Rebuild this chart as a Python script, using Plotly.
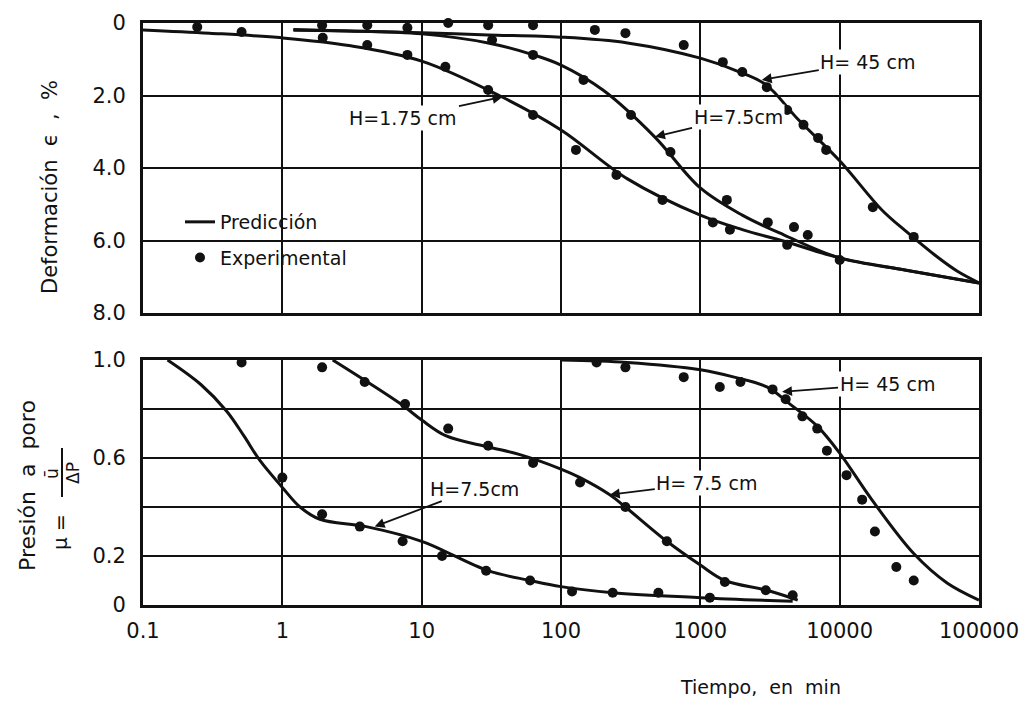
import numpy as np
import plotly.graph_objects as go

# ---------------- data ----------------
# Top panel: deformation (%), prediction curves
def_x_175 = [0.1, 0.3, 1, 3, 10, 36, 100, 300, 1000, 2000, 4000, 10000, 30000, 100000]
def_y_175 = [0.19, 0.28, 0.41, 0.62, 1.05, 2.0, 2.95, 4.3, 5.3, 5.7, 6.02, 6.48, 6.82, 7.17]
def_x_75 = [1.2, 3, 10, 30, 60, 100, 200, 470, 1000, 2000, 4000, 10000, 30000, 100000]
def_y_75 = [0.2, 0.22, 0.3, 0.55, 0.85, 1.16, 1.85, 3.14, 4.55, 5.3, 5.85, 6.48, 6.82, 7.17]
def_x_45 = [1.2, 3, 10, 30, 100, 300, 1000, 2000, 3000, 5000, 10000, 20000, 30000, 50000, 70000, 100000]
def_y_45 = [0.18, 0.22, 0.27, 0.33, 0.39, 0.55, 0.97, 1.38, 1.72, 2.65, 3.8, 5.15, 5.75, 6.45, 6.85, 7.17]

# Top panel: experimental points
exp_def_x_175 = [0.245, 0.51, 1.95, 4.07, 7.9, 14.8, 30, 63, 128, 250, 535, 1230, 1630, 4200, 10000]
exp_def_y_175 = [0.11, 0.25, 0.41, 0.61, 0.88, 1.21, 1.85, 2.54, 3.5, 4.19, 4.88, 5.5, 5.7, 6.12, 6.54]
exp_def_x_75 = [7.9, 32, 63, 145, 318, 610, 1550, 3050, 4700, 5900]
exp_def_y_75 = [0.13, 0.47, 0.88, 1.57, 2.54, 3.56, 4.88, 5.5, 5.63, 5.85]
exp_def_x_45 = [1.93, 4.07, 15.5, 30, 63, 175, 290, 760, 1450, 2000, 3000, 4200, 5500, 7000, 8000, 17300, 34000]
exp_def_y_45 = [0.06, 0.06, 0.0, 0.06, 0.06, 0.19, 0.28, 0.61, 1.08, 1.35, 1.77, 2.4, 2.81, 3.17, 3.5, 5.08, 5.9]

# Bottom panel: pore pressure ratio, prediction curves
pp_x_a = [0.15, 0.26, 0.4, 0.53, 0.69, 1, 1.34, 1.86, 4, 10, 30, 60, 100, 235, 1000, 4600]
pp_y_a = [1.0, 0.9, 0.79, 0.69, 0.59, 0.48, 0.4, 0.35, 0.32, 0.26, 0.14, 0.10, 0.075, 0.05, 0.03, 0.015]
pp_x_b = [2.3, 7.1, 10, 15, 30, 50, 100, 137, 224, 290, 575, 1000, 1500, 3000, 5000]
pp_y_b = [1.0, 0.82, 0.755, 0.69, 0.645, 0.615, 0.555, 0.52, 0.45, 0.4, 0.26, 0.163, 0.1, 0.06, 0.02]
pp_x_c = [100, 300, 1000, 1750, 3000, 4400, 6900, 10000, 17000, 34000, 59000, 100000]
pp_y_c = [1.0, 0.99, 0.96, 0.93, 0.89, 0.82, 0.73, 0.62, 0.43, 0.21, 0.09, 0.02]

# Bottom panel: experimental points
exp_pp_x_a = [0.51, 1, 1.93, 3.6, 7.3, 14, 29, 60, 120, 235, 500, 1170]
exp_pp_y_a = [0.99, 0.52, 0.37, 0.32, 0.26, 0.2, 0.14, 0.1, 0.055, 0.05, 0.05, 0.03]
exp_pp_x_b = [1.93, 3.9, 7.6, 15.5, 30, 63, 137, 290, 575, 1500, 2950, 4600]
exp_pp_y_b = [0.97, 0.91, 0.82, 0.72, 0.65, 0.58, 0.5, 0.4, 0.26, 0.094, 0.06, 0.04]
exp_pp_x_c = [180, 290, 760, 1380, 1940, 3300, 4100, 5400, 6900, 8100, 11200, 14500, 17900, 25500, 34000]
exp_pp_y_c = [0.99, 0.97, 0.93, 0.89, 0.91, 0.88, 0.84, 0.77, 0.72, 0.63, 0.53, 0.43, 0.3, 0.155, 0.10]

x_tickvals = [0.1, 1, 10, 100, 1000, 10000, 100000]
x_ticktext = ["0.1", "1", "10", "100", "1000", "10000", "100000"]
def_tickvals = [0, 2, 4, 6, 8]
def_ticktext = ["0", "2.0", "4.0", "6.0", "8.0"]
pp_tickvals = [0, 0.2, 0.4, 0.6, 0.8, 1.0]
pp_ticktext = ["0", "0.2", "", "0.6", "", "1.0"]

# ---------------- figure ----------------
FONT = "DejaVu Sans"
INK = "#111111"
fig = go.Figure()

line_style = dict(color=INK, width=3, shape="spline", smoothing=1.0)
marker_style = dict(color=INK, size=10)

curves = [
    (def_x_175, def_y_175, "x", "y"),
    (def_x_75, def_y_75, "x", "y"),
    (def_x_45, def_y_45, "x", "y"),
    (pp_x_a, pp_y_a, "x2", "y2"),
    (pp_x_b, pp_y_b, "x2", "y2"),
    (pp_x_c, pp_y_c, "x2", "y2"),
]
for i, (xs, ys, xa, ya) in enumerate(curves):
    fig.add_trace(go.Scatter(x=xs, y=ys, mode="lines", line=line_style,
                             xaxis=xa, yaxis=ya, name="Predicción",
                             legendgroup="pred", showlegend=(i == 0),
                             hoverinfo="skip"))

points = [
    (exp_def_x_175, exp_def_y_175, "x", "y"),
    (exp_def_x_75, exp_def_y_75, "x", "y"),
    (exp_def_x_45, exp_def_y_45, "x", "y"),
    (exp_pp_x_a, exp_pp_y_a, "x2", "y2"),
    (exp_pp_x_b, exp_pp_y_b, "x2", "y2"),
    (exp_pp_x_c, exp_pp_y_c, "x2", "y2"),
]
for i, (xs, ys, xa, ya) in enumerate(points):
    fig.add_trace(go.Scatter(x=xs, y=ys, mode="markers", marker=marker_style,
                             xaxis=xa, yaxis=ya, name="Experimental",
                             legendgroup="exp", showlegend=(i == 0),
                             cliponaxis=False, hoverinfo="skip"))

axis_common = dict(showline=True, mirror=True, linecolor=INK, linewidth=3,
                   showgrid=True, gridcolor=INK, gridwidth=1.7, zeroline=False,
                   ticks="", automargin=False,
                   tickfont=dict(family=FONT, size=21, color=INK))

XDOM = [143 / 1022, 979 / 1022]
fig.update_layout(
    width=1022, height=702,
    margin=dict(l=0, r=0, t=0, b=0),
    paper_bgcolor="white", plot_bgcolor="white",
    font=dict(family=FONT, color=INK),
    xaxis=dict(type="log", range=[-1, 5], domain=XDOM, anchor="y",
               tickvals=x_tickvals, showticklabels=False, **axis_common),
    yaxis=dict(range=[8, 0], domain=[(702 - 313) / 702, (702 - 23) / 702], anchor="x",
               tickvals=def_tickvals, ticktext=def_ticktext, ticklabelstandoff=10,
               **axis_common),
    xaxis2=dict(type="log", range=[-1, 5], domain=XDOM, anchor="y2",
                tickvals=x_tickvals, ticktext=x_ticktext, ticklabelstandoff=5,
                **axis_common),
    yaxis2=dict(range=[0, 1.0], domain=[(702 - 605) / 702, (702 - 360) / 702], anchor="x2",
                tickvals=pp_tickvals, ticktext=pp_ticktext, ticklabelstandoff=10,
                **axis_common),
    legend=dict(x=180 / 1022, y=(702 - 203) / 702, xanchor="left", yanchor="top",
                bgcolor="rgba(0,0,0,0)", font=dict(family=FONT, size=19, color=INK),
                traceorder="grouped", tracegroupgap=8),
    showlegend=True,
)

# white area behind the legend (grid interrupted in the original)
fig.add_shape(type="rect", xref="x domain", yref="y domain",
              x0=(166 - 143) / 836, x1=(416 - 143) / 836, y0=0.1, y1=0.49,
              fillcolor="white", line=dict(width=0), layer="below")

lab_font = dict(family=FONT, size=19, color=INK)


def label(text, xv, yv, ax, ay, xref, yref):
    fig.add_annotation(text=text, x=np.log10(xv), y=yv, xref=xref, yref=yref,
                       ax=ax, ay=ay, showarrow=True, arrowhead=2, arrowsize=1.1,
                       arrowwidth=1.8, arrowcolor=INK, font=lab_font,
                       bgcolor="white", borderpad=1)


label("H= 45 cm", 2760, 1.57, 106, -18, "x", "y")
label("H=7.5cm", 473, 3.14, 83, -20, "x", "y")
label("H=1.75 cm", 38, 2.04, -99, 21, "x", "y")
label("H= 45 cm", 3860, 0.87, 105, -8, "x2", "y2")
label("H= 7.5 cm", 224, 0.45, 97, -12, "x2", "y2")
label("H=7.5cm", 4.6, 0.32, 100, -38, "x2", "y2")


def ptext(text, px, py, size=20, angle=-90):
    fig.add_annotation(text=text, x=px / 1022, y=(702 - py) / 702, xref="paper", yref="paper",
                       showarrow=False, textangle=angle, xanchor="center", yanchor="middle",
                       font=dict(family=FONT, size=size, color=INK))


ptext("Deformación  ϵ  ,  %", 50, 187, size=21)
ptext("Presión  a  poro", 27, 486, size=22)
ptext("μ =", 60, 532, size=20)
ptext("ū", 52, 474, size=17)
ptext("ΔP", 73, 473, size=17)
fig.add_shape(type="line", xref="paper", yref="paper",
              x0=62 / 1022, x1=62 / 1022, y0=(702 - 448) / 702, y1=(702 - 497) / 702,
              line=dict(color=INK, width=2))
ptext("Tiempo,  en  min", 760, 687, size=19, angle=0)

fig.write_html("out.html")
